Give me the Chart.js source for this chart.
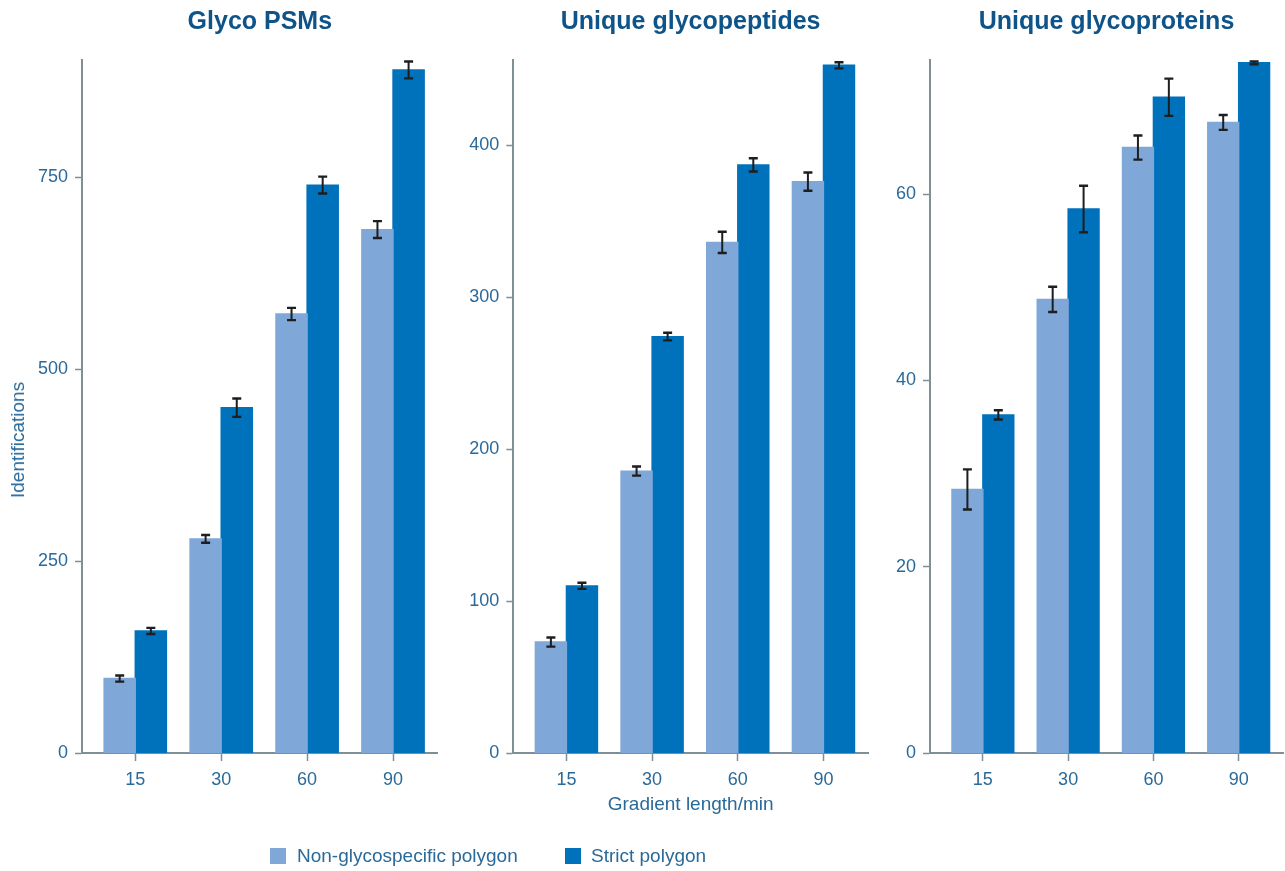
<!DOCTYPE html>
<html>
<head>
<meta charset="utf-8">
<script src="https://cdn.jsdelivr.net/npm/chart.js@4.4.1/dist/chart.umd.min.js"></script>
<style>
  html, body { margin: 0; padding: 0; background: #ffffff; }
  #wrap { position: relative; width: 1285px; height: 871px; overflow: hidden; font-family: 'Liberation Sans', Arial, sans-serif; }
  canvas { position: absolute; top: 0; }
  #ytitle { position: absolute; left: 18px; top: 440px; transform: translate(-50%, -50%) rotate(-90deg); white-space: nowrap; font-size: 19px; color: #2a6a9a; }
  .leg { position: absolute; top: 856px; transform: translateY(-50%); font-size: 19px; color: #2a6a9a; white-space: nowrap; }
  .sw { position: absolute; top: 848px; width: 16px; height: 16px; }
</style>
</head>
<body>
<div id="wrap">
  <canvas id="c1" width="445" height="871" style="left:0px"></canvas>
  <canvas id="c2" width="430" height="871" style="left:445px"></canvas>
  <canvas id="c3" width="410" height="871" style="left:875px"></canvas>
  <div id="ytitle">Identifications</div>
  <div class="sw" style="left:270px;background:#7fa7d8"></div>
  <div class="leg" style="left:297px">Non-glycospecific polygon</div>
  <div class="sw" style="left:565px;background:#0071bb"></div>
  <div class="leg" style="left:591px">Strict polygon</div>
</div>
<script>
// ---- Data ----
const categories = ['15', '30', '60', '90'];
const seriesNames = ['Non-glycospecific polygon', 'Strict polygon'];
const panelTitles = ['Glyco PSMs', 'Unique glycopeptides', 'Unique glycoproteins'];
const xAxisTitle = 'Gradient length/min';

const psmNon = [97, 279, 572, 682];
const psmNonErr = [4, 5, 8, 11];
const psmStrict = [159, 450, 740, 890];
const psmStrictErr = [4, 12, 11, 11];

const pepNon = [73, 185.5, 336, 376];
const pepNonErr = [3, 3, 7, 6];
const pepStrict = [110, 274, 387, 452.5];
const pepStrictErr = [2, 2.5, 4.4, 2];

const protNon = [28.3, 48.7, 65.0, 67.7];
const protNonErr = [2.15, 1.35, 1.3, 0.8];
const protStrict = [36.3, 58.4, 70.4, 74.1];
const protStrictErr = [0.5, 2.5, 2.0, 0.15];

const yTicksPsm = [0, 250, 500, 750];
const yTicksPep = [0, 100, 200, 300, 400];
const yTicksProt = [0, 20, 40, 60];

// ---- Styles ----
const lightColor = '#7fa7d8';
const darkColor = '#0071bb';
const textColor = '#2a6a9a';
const titleColor = '#0f5488';
const axisColor = '#7f8f98';
const errColor = '#1e1e1e';

Chart.defaults.font.family = "'Liberation Sans', Arial, sans-serif";
Chart.defaults.color = textColor;

const errorBarPlugin = {
  id: 'errorBars',
  afterDatasetsDraw(chart) {
    const ctx = chart.ctx;
    const yScale = chart.scales.y;
    ctx.save();
    ctx.strokeStyle = errColor;
    chart.data.datasets.forEach((ds, di) => {
      const meta = chart.getDatasetMeta(di);
      meta.data.forEach((el, i) => {
        const v = ds.data[i].y;
        const e = ds.errors[i];
        const yTop = yScale.getPixelForValue(v + e);
        const yBot = yScale.getPixelForValue(v - e);
        const x = el.x;
        ctx.lineWidth = 2;
        ctx.beginPath();
        ctx.moveTo(x, yTop);
        ctx.lineTo(x, yBot);
        ctx.stroke();
        ctx.lineWidth = 2.4;
        ctx.beginPath();
        ctx.moveTo(x - 4.5, yTop);
        ctx.lineTo(x + 4.5, yTop);
        ctx.moveTo(x - 4.5, yBot);
        ctx.lineTo(x + 4.5, yBot);
        ctx.stroke();
      });
    });
    ctx.restore();
  }
};

function makeChart(id, title, nonVals, nonErr, strictVals, strictErr, yTicks, yMax, yWidth, rightPad, showXTitle) {
  const step = yTicks[1] - yTicks[0];
  return new Chart(document.getElementById(id), {
    type: 'bar',
    data: {
      datasets: [
        {
          label: seriesNames[0],
          data: nonVals.map((v, i) => ({ x: i, y: v })),
          errors: nonErr,
          backgroundColor: lightColor,
          borderWidth: 0,
          inflateAmount: 0.7,
          barPercentage: 1.0,
          categoryPercentage: 0.725
        },
        {
          label: seriesNames[1],
          data: strictVals.map((v, i) => ({ x: i, y: v })),
          errors: strictErr,
          backgroundColor: darkColor,
          borderWidth: 0,
          inflateAmount: 0.7,
          barPercentage: 1.0,
          categoryPercentage: 0.725
        }
      ]
    },
    options: {
      responsive: false,
      animation: false,
      events: [],
      layout: { padding: { left: 0, right: rightPad, top: 0, bottom: 0 } },
      plugins: {
        legend: { display: false },
        tooltip: { enabled: false },
        title: {
          display: true,
          text: title,
          fullSize: false,
          color: titleColor,
          font: { size: 25, weight: 'bold' },
          padding: { top: 7, bottom: 23 }
        }
      },
      scales: {
        x: {
          type: 'linear',
          min: -0.62,
          max: 3.52,
          offset: false,
          afterFit(scale) { scale.height = 118; },
          ticks: {
            stepSize: 1,
            includeBounds: false,
            autoSkip: false,
            maxRotation: 0,
            padding: 8,
            color: textColor,
            font: { size: 18 },
            callback: (v) => categories[v] !== undefined ? categories[v] : ''
          },
          grid: {
            display: true,
            offset: false,
            drawOnChartArea: false,
            drawTicks: true,
            tickLength: 8,
            tickColor: axisColor,
            tickWidth: 1.5
          },
          border: { display: true, color: axisColor, width: 2 },
          title: {
            display: true,
            text: showXTitle ? xAxisTitle : '',
            color: textColor,
            font: { size: 19 },
            padding: { top: 0, bottom: 55 }
          }
        },
        y: {
          type: 'linear',
          min: 0,
          max: yMax,
          afterFit(scale) { scale.width = yWidth; },
          afterBuildTicks(scale) { scale.ticks = yTicks.map(v => ({ value: v })); },
          ticks: {
            stepSize: step,
            includeBounds: false,
            padding: 7,
            color: textColor,
            font: { size: 18 }
          },
          grid: {
            display: true,
            drawOnChartArea: false,
            drawTicks: true,
            tickLength: 7,
            tickColor: axisColor,
            tickWidth: 1.5
          },
          border: { display: true, color: axisColor, width: 2 }
        }
      }
    },
    plugins: [errorBarPlugin]
  });
}

makeChart('c1', panelTitles[0], psmNon, psmNonErr, psmStrict, psmStrictErr, yTicksPsm, 903, 82, 7.3, false);
makeChart('c2', panelTitles[1], pepNon, pepNonErr, pepStrict, pepStrictErr, yTicksPep, 456, 68.3, 7, true);
makeChart('c3', panelTitles[2], protNon, protNonErr, protStrict, protStrictErr, yTicksProt, 74.4, 55, 2, false);
</script>
</body>
</html>
